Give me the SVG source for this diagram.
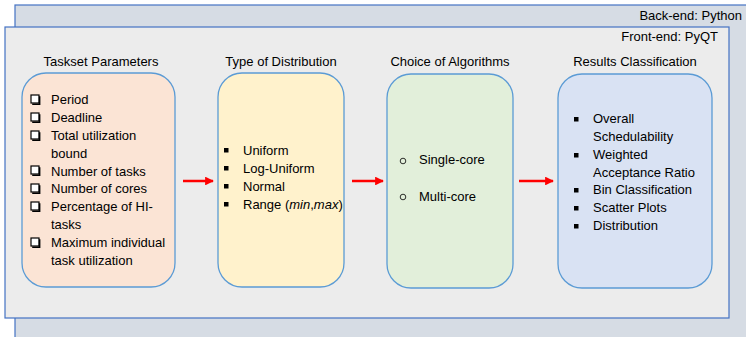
<svg xmlns="http://www.w3.org/2000/svg" width="746" height="337" viewBox="0 0 746 337">
  <defs>
    <style>
      text { font-family: "Liberation Sans", Arial, sans-serif; font-size: 13px; fill: #000; }
      .panel { stroke: #4472c4; stroke-width: 1.2; }
      .node { stroke: #5b9bd5; stroke-width: 1.3; }
      .arrow { stroke: #ff0000; stroke-width: 2.5; fill: none; marker-end: url(#head); }
      .sq { fill: #000; }
      .ring { fill: none; stroke: #000; stroke-width: 0.8; }
    </style>
    <marker id="head" viewBox="0 0 10 10" refX="9" refY="5" markerWidth="3.5" markerHeight="3.5" orient="auto" markerUnits="strokeWidth">
      <path d="M0,0 L10,5 L0,10 z" fill="#ff0000"/>
    </marker>
    <g id="chk">
      <rect x="0" y="0" width="8" height="8" fill="#fff" stroke="#000" stroke-width="1.2"/>
      <path d="M8.6,1.2 V9.2 H1.2" fill="none" stroke="#000" stroke-width="1.6"/>
    </g>
  </defs>

  <!-- back-end and front-end panels -->
  <g id="backend">
    <rect class="panel" x="15" y="5" width="740" height="340" fill="#d6dce4"/>
    <text x="742" y="20" text-anchor="end">Back-end: Python</text>
  </g>
  <g id="frontend">
    <rect class="panel" x="5" y="27" width="724" height="291" fill="#ececec"/>
    <text x="718" y="41" text-anchor="end">Front-end: PyQT</text>
  </g>

  <!-- Taskset Parameters -->
  <g id="taskset">
    <text x="101" y="66" text-anchor="middle">Taskset Parameters</text>
    <rect class="node" x="22" y="73" width="153" height="214" rx="24" fill="#fbe4d5"/>
    <use href="#chk" x="31" y="95"/>
    <use href="#chk" x="31" y="113"/>
    <use href="#chk" x="31" y="131"/>
    <use href="#chk" x="31" y="166"/>
    <use href="#chk" x="31" y="184"/>
    <use href="#chk" x="31" y="202"/>
    <use href="#chk" x="31" y="238"/>
    <text x="51" y="104">Period</text>
    <text x="51" y="122">Deadline</text>
    <text x="51" y="140">Total utilization</text>
    <text x="51" y="158">bound</text>
    <text x="51" y="176">Number of tasks</text>
    <text x="51" y="193">Number of cores</text>
    <text x="51" y="211">Percentage of HI-</text>
    <text x="51" y="229">tasks</text>
    <text x="51" y="247">Maximum individual</text>
    <text x="51" y="265">task utilization</text>
  </g>

  <!-- Type of Distribution -->
  <g id="distribution">
    <text x="281" y="66" text-anchor="middle">Type of Distribution</text>
    <rect class="node" x="218" y="73" width="126" height="214" rx="24" fill="#fff2cc"/>
    <rect class="sq" x="224" y="148" width="4.5" height="4.5"/>
    <rect class="sq" x="224" y="166" width="4.5" height="4.5"/>
    <rect class="sq" x="224" y="184" width="4.5" height="4.5"/>
    <rect class="sq" x="224" y="202" width="4.5" height="4.5"/>
    <text x="243" y="155">Uniform</text>
    <text x="243" y="173">Log-Uniform</text>
    <text x="243" y="191">Normal</text>
    <text x="243" y="209">Range (<tspan font-style="italic">min</tspan>,<tspan font-style="italic">max</tspan>)</text>
  </g>

  <!-- Choice of Algorithms -->
  <g id="algorithms">
    <text x="450" y="66" text-anchor="middle">Choice of Algorithms</text>
    <rect class="node" x="387" y="74" width="126" height="214" rx="24" fill="#e2efda"/>
    <circle class="ring" cx="403" cy="161" r="2.8"/>
    <circle class="ring" cx="403" cy="197" r="2.8"/>
    <text x="419" y="164">Single-core</text>
    <text x="419" y="201">Multi-core</text>
  </g>

  <!-- Results Classification -->
  <g id="results">
    <text x="635" y="66" text-anchor="middle">Results Classification</text>
    <rect class="node" x="558" y="74" width="154" height="214" rx="24" fill="#d9e2f3"/>
    <rect class="sq" x="574" y="117" width="4.5" height="4.5"/>
    <rect class="sq" x="574" y="153" width="4.5" height="4.5"/>
    <rect class="sq" x="574" y="188" width="4.5" height="4.5"/>
    <rect class="sq" x="574" y="206" width="4.5" height="4.5"/>
    <rect class="sq" x="574" y="224" width="4.5" height="4.5"/>
    <text x="593" y="123">Overall</text>
    <text x="593" y="141">Schedulability</text>
    <text x="593" y="159">Weighted</text>
    <text x="593" y="177">Acceptance Ratio</text>
    <text x="593" y="194">Bin Classification</text>
    <text x="593" y="212">Scatter Plots</text>
    <text x="593" y="230">Distribution</text>
  </g>

  <!-- connectors -->
  <g id="connectors">
    <line class="arrow" x1="183" y1="181" x2="213" y2="181"/>
    <line class="arrow" x1="352" y1="181" x2="383" y2="181"/>
    <line class="arrow" x1="519" y1="181" x2="553" y2="181"/>
  </g>
</svg>
